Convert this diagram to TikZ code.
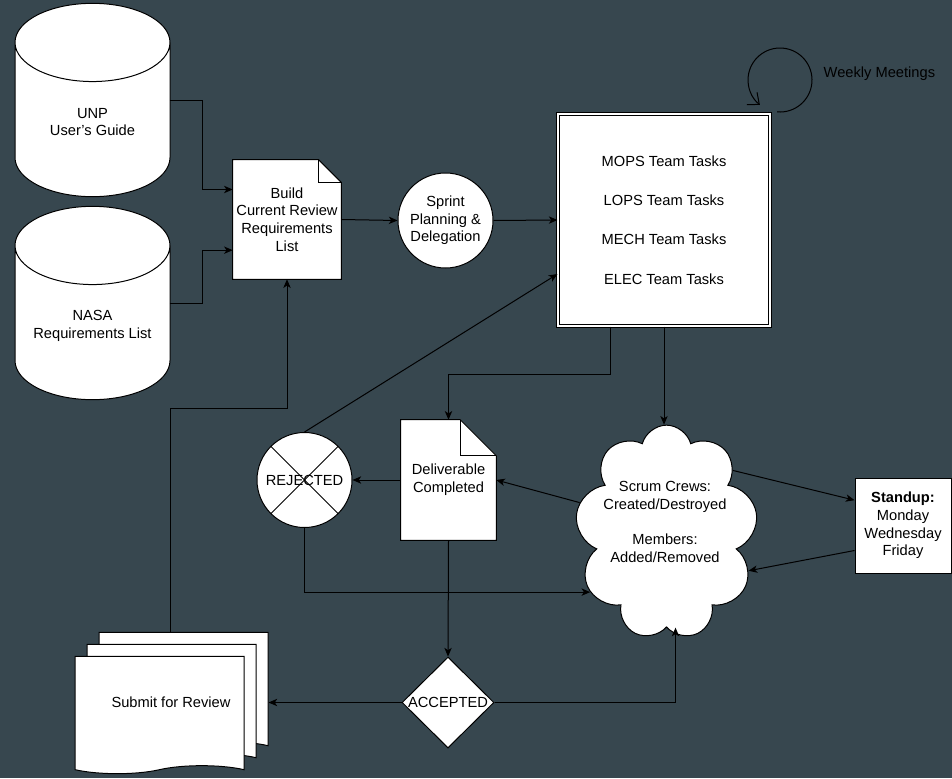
\documentclass[tikz,border=0pt]{standalone}
\usepackage{fontspec}
\setmainfont{Liberation Sans}
\usetikzlibrary{shapes.geometric, shapes.symbols, shadows, arrows.meta}
\definecolor{bgcol}{HTML}{37474F}

\begin{document}
\begin{tikzpicture}[x=0.75pt, y=-0.75pt, font=\fontsize{11}{13.2}\selectfont,
    base/.style={draw, fill=white, line width=0.75pt, align=center},
    db/.style={base, cylinder, shape border rotate=90, aspect=8.8, anchor=shape center, minimum width=116.25pt, minimum height=145pt},
    note/.style={rectangle, align=center, inner sep=2pt,
        append after command={\pgfextra{
            \filldraw[fill=white, line width=0.75pt] (\tikzlastnode.north west) -- ([xshift=-#1]\tikzlastnode.north east) -- ([yshift=-#1]\tikzlastnode.north east) -- (\tikzlastnode.south east) -- (\tikzlastnode.south west) -- cycle;
            \draw[line width=0.75pt] ([xshift=-#1]\tikzlastnode.north east) |- ([yshift=-#1]\tikzlastnode.north east);
        }}},
    multidoc/.style={tape, tape bend top=none, tape bend height=6pt, draw, fill=white, line width=0.75pt, minimum width=126.75pt, minimum height=88pt,
        copy shadow={shadow xshift=18pt, shadow yshift=18pt, draw=black, line width=0.75pt},
        copy shadow={shadow xshift=9pt, shadow yshift=9pt, draw=black, line width=0.75pt}},
    n/.style={-{Stealth[length=6.5pt, width=5.5pt, inset=1.8pt]}, line width=0.75pt},
    weeklyarc/.style={-{Straight Barb[length=7pt, width=12pt]}, line width=0.75pt}]
    % background
    \path[use as bounding box, fill=bgcol] (0,0) rectangle (952,778);
    % nodes
    \node[db] (unp) at (92.5,100) {};
    \node[align=center] (unptxt) at ([yshift=-16.5pt]unp.shape center) {UNP\\User's Guide};
    \node[db] (nasa) at (92.5,303) {};
    \node[align=center] (nasatxt) at ([yshift=-17pt]nasa.shape center) {NASA\\Requirements List};
    \node[note=17pt, minimum width=81pt, minimum height=89.25pt] (build) at (287,219.5) {Build\\Current Review\\Requirements\\List};
    \node[base, circle, minimum size=71.25pt, inner sep=0pt] (sprint) at (445.5,220.5) {Sprint\\Planning \&\\Delegation};
    \node[base, double=white, double distance=1.5pt, minimum size=159pt, font=\fontsize{11}{29.6}\selectfont] (tasks) at (664,220) {MOPS Team Tasks\\LOPS Team Tasks\\MECH Team Tasks\\ELEC Team Tasks};
    \coordinate (weekly) at (780,80);
    \node[anchor=west] (weeklytxt) at (819,74) {Weekly Meetings};
    \node[base, circle, minimum size=71.25pt, inner sep=0pt, path picture={
        \draw[line width=0.75pt] (path picture bounding box.north west) -- (path picture bounding box.south east)
            (path picture bounding box.north east) -- (path picture bounding box.south west);}] (rejected) at (304.5,480) {REJECTED};
    \node[note=27pt, minimum width=71.25pt, minimum height=90pt] (deliv) at (448.5,480) {Deliverable\\Completed};
    \node[base, cloud, cloud puffs=9, cloud ignores aspect, minimum width=137pt, minimum height=161pt] (crew) at (666.5,532.5) {};
    \node[align=center] (crewtxt) at (665,522) {Scrum Crews:\\Created/Destroyed\\[13pt]Members:\\Added/Removed};
    \node[base, minimum width=72pt, minimum height=71.25pt] (standup) at (903,525.5) {\textbf{Standup:}\\Monday\\Wednesday\\Friday};
    \node[base, diamond, minimum width=69pt, minimum height=68.25pt, inner sep=0pt] (accepted) at (448,702.5) {\makebox[0pt]{ACCEPTED}};
    \node[multidoc] (submit) at (159.5,711) {};
    \node (submittxt) at (171,702) {Submit for Review};
    \coordinate (submitin) at ([xshift=18pt]submit.east);
    \coordinate (submitout) at ([xshift=8pt, yshift=18pt]submit.north);
    % edges
    \draw[n] ([xshift=58pt]unp.shape center) -- ++(33,0) |- ([yshift=22.5pt]build.west);
    \draw[n] ([xshift=58pt]nasa.shape center) -- ++(33,0) |- ([yshift=-23pt]build.west);
    \draw[n] (build.east) -- (sprint.west);
    \draw[n] (sprint.east) -- (tasks.west);
    \draw[n] (rejected.north) -- ([yshift=-40.5pt]tasks.west);
    \draw[n] ([xshift=-40.5pt]tasks.south) -- ++(0,48) -| (deliv.north);
    \draw[n] (tasks.south) -- (tasks.south |- crew.north);
    \draw[n] (crew.161) -- (deliv.east);
    \draw[n] (deliv.west) -- (rejected.east);
    \draw[n] (rejected.south) |- (crew.218);
    \draw[n] (deliv.south) -- (accepted.north);
    \draw[n] (accepted.west) -- (submitin |- accepted.west);
    \draw[n] (accepted.east) -| ([xshift=6.75pt]crew.south);
    \draw[n] (submitout) -- ++(0,-223) -| (build.south);
    \draw[n] (crew.43) -- ([yshift=19pt]standup.west);
    \draw[n] ([yshift=-18.75pt]standup.west) -- (crew.335);
    \draw[weeklyarc] ([shift={(-95:24pt)}]weekly) arc[start angle=-95, end angle=231, radius=24pt];
\end{tikzpicture}
\end{document}
